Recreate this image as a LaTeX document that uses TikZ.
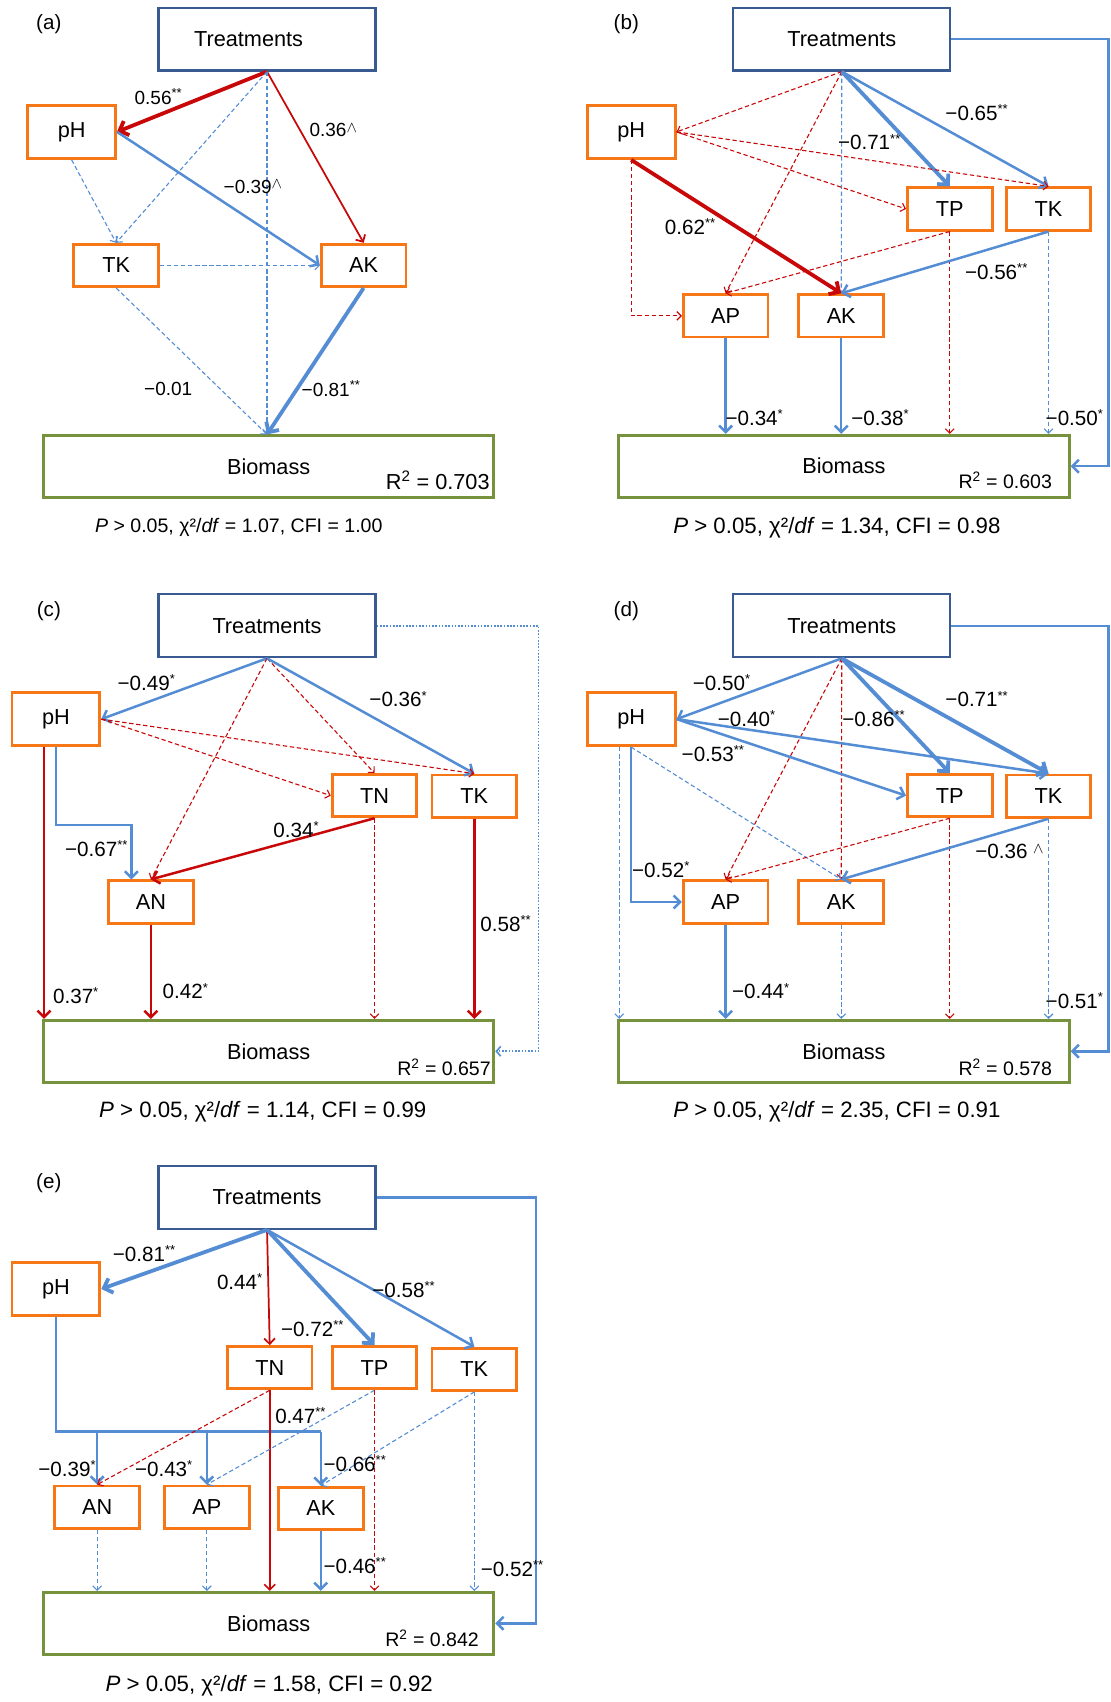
\documentclass[tikz,border=0pt]{standalone}
\usepackage{fontspec}
\setmainfont{Liberation Sans}
\usetikzlibrary{arrows.meta}
\definecolor{trtblue}{RGB}{57,91,145}
\definecolor{boxorange}{RGB}{247,118,22}
\definecolor{biogreen}{RGB}{118,146,60}
\definecolor{pathblue}{RGB}{84,141,212}
\definecolor{pathred}{RGB}{200,8,8}
\newcommand{\pstar}[1]{\textsuperscript{\fontsize{12}{12}\selectfont #1}}
\newcommand{\pwedge}{\raisebox{4pt}{\fontsize{14}{14}\selectfont$\wedge$}}
\begin{document}
\begin{tikzpicture}[x=1pt, y=-1pt,
  trt/.style={draw=trtblue, line width=2pt, minimum width=200pt, minimum height=58pt, inner sep=0pt, font=\fontsize{20}{20}\selectfont},
  var/.style={draw=boxorange, line width=2.6pt, minimum width=78pt, minimum height=39pt, inner sep=0pt, font=\fontsize{20}{20}\selectfont},
  ph/.style={var, minimum width=81pt, minimum height=49pt},
  bio/.style={draw=biogreen, line width=2.6pt, minimum width=415pt, minimum height=57pt, inner sep=0pt, font=\fontsize{20}{20}\selectfont},
  r2/.style={inner sep=0pt, anchor=south east, font=\fontsize{18}{18}\selectfont},
  lab/.style={inner sep=0pt, font=\fontsize{19}{19}\selectfont},
  laba/.style={inner sep=0pt, font=\fontsize{17.5}{17.5}\selectfont},
  plab/.style={inner sep=0pt, font=\fontsize{19}{19}\selectfont},
  captxt/.style={inner sep=0pt, font=\fontsize{20.5}{20.5}\selectfont},
  bthick/.style={pathblue, line width=3.5pt, -{Straight Barb[length=7pt,width=14pt]}},
  bmid/.style={pathblue, line width=2.3pt, -{Straight Barb[length=6pt,width=12pt]}},
  bdash/.style={pathblue, line width=1pt, dash pattern=on 4pt off 2.5pt, -{Straight Barb[length=4pt,width=8pt]}},
  bdot/.style={pathblue, line width=1.5pt, dash pattern=on 1.5pt off 1.5pt, -{Straight Barb[length=4pt,width=9pt]}},
  rthick/.style={pathred, line width=3.5pt, -{Straight Barb[length=7pt,width=14pt]}},
  rmid/.style={pathred, line width=2.3pt, -{Straight Barb[length=6pt,width=12pt]}},
  rthin/.style={pathred, line width=1.6pt, -{Straight Barb[length=5pt,width=10pt]}},
  rdash/.style={pathred, line width=1pt, dash pattern=on 4pt off 2.5pt, -{Straight Barb[length=4pt,width=8pt]}}]
  \fill[white] (0,0) rectangle (1023,1568);
  \useasboundingbox (0,0) rectangle (1023,1568);

  % (a)
  \node[plab] (labA) at (45,22) {(a)};
  \node[trt] (trtA) at (246,36) {\hspace*{-34pt}Treatments};
  \node[ph] (phA) at (66,121.5) {pH};
  \node[var] (tkA) at (107,244.5) {TK};
  \node[var] (akA) at (335,244.5) {AK};
  \node[bio] (bioA) at (247.5,430) {Biomass};
  \node[r2, font=\fontsize{20}{20}\selectfont] (r2A) at ([xshift=-5pt,yshift=8pt]bioA.south east) {R\textsuperscript{2} = 0.703};
  \coordinate (inA) at (trtA.south |- bioA.north);
  \draw[rthick] (trtA.south) -- (phA.east);
  \draw[rthin] (trtA.south) -- (akA.north);
  \draw[bdash] (trtA.south) -- (tkA.north);
  \draw[bdash] (trtA.south) -- (inA);
  \draw[bmid] (phA.east) -- (akA.west);
  \draw[bdash] (phA.south) -- (tkA.north);
  \draw[bdash] (tkA.east) -- (akA.west);
  \draw[bdash] (tkA.south) -- (inA);
  \draw[bthick] (akA.south) -- (inA);
  \node[laba] (lA1) at (146,89) {0.56\pstar{**}};
  \node[laba] (lA2) at (307,120) {0.36\pwedge};
  \node[laba] (lA3) at (233,172) {−0.39\pwedge};
  \node[laba] (lA4) at (155,358) {−0.01};
  \node[laba] (lA5) at (305,358) {−0.81\pstar{**}};
  \node[captxt, font=\fontsize{18}{18}\selectfont] (capA) at (220,486) {\textit{P} > 0.05, χ²/\textit{df} = 1.07, CFI = 1.00};

  % (b)
  \node[plab] (labB) at (577,22) {(b)};
  \node[trt] (trtB) at (775.5,36) {Treatments};
  \node[ph] (phB) at (581.5,121.5) {pH};
  \node[var] (tpB) at (875,192.5) {TP};
  \node[var] (tkB) at (966,192.5) {TK};
  \node[var] (apB) at (668.5,291) {AP};
  \node[var] (akB) at (775,291) {AK};
  \node[bio] (bioB) at (777.5,429.5) {Biomass};
  \node[r2] (r2B) at ([xshift=-17pt,yshift=9pt]bioB.south east) {R\textsuperscript{2} = 0.603};
  \coordinate (fbB) at (1021,232);
  \draw[rdash] (trtB.south) -- (phB.east);
  \draw[rdash] (trtB.south) -- (apB.north);
  \draw[bdash] (trtB.south) -- (akB.north);
  \draw[bthick] (trtB.south) -- (tpB.north);
  \draw[bmid] (trtB.south) -- (tkB.north);
  \draw[rdash] (phB.east) -- (tpB.west);
  \draw[rdash] (phB.east) -- (tkB.north);
  \draw[rthick] (phB.south) -- (akB.north);
  \draw[rdash] (phB.south) |- (apB.west);
  \draw[rdash] (tpB.south) -- (apB.north);
  \draw[rdash] (tpB.south) -- (tpB.south |- bioB.north);
  \draw[bmid] (tkB.south) -- (akB.north);
  \draw[bdash] (tkB.south) -- (tkB.south |- bioB.north);
  \draw[bmid] (apB.south) -- (apB.south |- bioB.north);
  \draw[bmid] (akB.south) -- (akB.south |- bioB.north);
  \draw[bmid] (trtB.east) -| (fbB) |- (bioB.east);
  \node[lab] (lB1) at (900,104) {−0.65\pstar{**}};
  \node[lab] (lB2) at (801,131) {−0.71\pstar{**}};
  \node[lab] (lB3) at (636,209) {0.62\pstar{**}};
  \node[lab] (lB4) at (918,250) {−0.56\pstar{**}};
  \node[lab] (lB5) at (695,385) {−0.34\pstar{*}};
  \node[lab] (lB6) at (811,385) {−0.38\pstar{*}};
  \node[lab] (lB7) at (990,385) {−0.50\pstar{*}};
  \node[captxt] (capB) at (771,486) {\textit{P} > 0.05, χ²/\textit{df} = 1.34, CFI = 0.98};

  % (c)
  \node[plab] (labC) at (45,563) {(c)};
  \node[trt] (trtC) at (246,576.5) {Treatments};
  \node[ph] (phC) at (51.5,662.5) {pH};
  \node[var] (tnC) at (345,733) {TN};
  \node[var] (tkC) at (437,733.5) {TK};
  \node[var] (anC) at (139,831) {AN};
  \node[bio] (bioC) at (247.5,968.5) {Biomass};
  \node[r2] (r2C) at ([xshift=-4pt,yshift=7pt]bioC.south east) {R\textsuperscript{2} = 0.657};
  \coordinate (pC) at ([xshift=-11pt]phC.south);
  \coordinate (cC) at (121,760);
  \coordinate (fbC) at (496,772);
  \draw[bmid] (trtC.south) -- (phC.east);
  \draw[rdash] (trtC.south) -- (anC.north);
  \draw[rdash] (trtC.south) -- (tnC.north);
  \draw[bmid] (trtC.south) -- (tkC.north);
  \draw[rdash] (phC.east) -- (tnC.west);
  \draw[rdash] (phC.east) -- (tkC.north);
  \draw[rmid] (pC) -- (pC |- bioC.north);
  \draw[bmid] (phC.south) |- (cC) -- (cC |- anC.north);
  \draw[rmid] (tnC.south) -- (anC.north);
  \draw[rdash] (tnC.south) -- (tnC.south |- bioC.north);
  \draw[rmid] (tkC.south) -- (tkC.south |- bioC.north);
  \draw[rmid] (anC.south) -- (anC.south |- bioC.north);
  \draw[bdot] (trtC.east) -| (fbC) |- (bioC.east);
  \node[lab] (lC1) at (135,629) {−0.49\pstar{*}};
  \node[lab] (lC2) at (367,644) {−0.36\pstar{*}};
  \node[lab] (lC3) at (273,764) {0.34\pstar{*}};
  \node[lab] (lC4) at (89,782) {−0.67\pstar{**}};
  \node[lab] (lC5) at (466,851) {0.58\pstar{**}};
  \node[lab] (lC6) at (70,917) {0.37\pstar{*}};
  \node[lab] (lC7) at (171,913) {0.42\pstar{*}};
  \node[captxt] (capC) at (242,1024) {\textit{P} > 0.05, χ²/\textit{df} = 1.14, CFI = 0.99};

  % (d)
  \node[plab] (labD) at (577,563) {(d)};
  \node[trt] (trtD) at (775.5,576.5) {Treatments};
  \node[ph] (phD) at (581.5,662.5) {pH};
  \node[var] (tpD) at (875,733) {TP};
  \node[var] (tkD) at (966,733.5) {TK};
  \node[var] (apD) at (668.5,831) {AP};
  \node[var] (akD) at (775,831) {AK};
  \node[bio] (bioD) at (777.5,968.5) {Biomass};
  \node[r2] (r2D) at ([xshift=-17pt,yshift=7pt]bioD.south east) {R\textsuperscript{2} = 0.578};
  \coordinate (pD) at ([xshift=-11pt]phD.south);
  \coordinate (fbD) at (1021,772);
  \draw[bmid] (trtD.south) -- (phD.east);
  \draw[rdash] (trtD.south) -- (apD.north);
  \draw[rdash] (trtD.south) -- (akD.north);
  \draw[bthick] (trtD.south) -- (tpD.north);
  \draw[bthick] (trtD.south) -- (tkD.north);
  \draw[bmid] (phD.east) -- (tkD.north);
  \draw[bmid] (phD.east) -- (tpD.west);
  \draw[bdash] (phD.south) -- (akD.north);
  \draw[bdash] (pD) -- (pD |- bioD.north);
  \draw[bmid] (phD.south) |- (apD.west);
  \draw[rdash] (tpD.south) -- (apD.north);
  \draw[rdash] (tpD.south) -- (tpD.south |- bioD.north);
  \draw[bmid] (tkD.south) -- (akD.north);
  \draw[bdash] (tkD.south) -- (tkD.south |- bioD.north);
  \draw[bmid] (apD.south) -- (apD.south |- bioD.north);
  \draw[bdash] (akD.south) -- (akD.south |- bioD.north);
  \draw[bmid] (trtD.east) -| (fbD) |- (bioD.east);
  \node[lab] (lD1) at (665,629) {−0.50\pstar{*}};
  \node[lab] (lD2) at (688,662) {−0.40\pstar{*}};
  \node[lab] (lD3) at (805,662) {−0.86\pstar{**}};
  \node[lab] (lD4) at (900,644) {−0.71\pstar{**}};
  \node[lab] (lD5) at (657,694) {−0.53\pstar{**}};
  \node[lab] (lD6) at (609,801) {−0.52\pstar{*}};
  \node[lab] (lD7) at (930,784) {−0.36 \pwedge};
  \node[lab] (lD8) at (701,913) {−0.44\pstar{*}};
  \node[lab] (lD9) at (990,922) {−0.51\pstar{*}};
  \node[captxt] (capD) at (771,1024) {\textit{P} > 0.05, χ²/\textit{df} = 2.35, CFI = 0.91};

  % (e)
  \node[plab] (labE) at (45,1090) {(e)};
  \node[trt] (trtE) at (246,1103) {Treatments};
  \node[ph] (phE) at (51.5,1187.5) {pH};
  \node[var] (tnE) at (248.5,1260) {TN};
  \node[var] (tpE) at (345,1260) {TP};
  \node[var] (tkE) at (437,1261.5) {TK};
  \node[var] (anE) at (89.5,1388.5) {AN};
  \node[var] (apE) at (190.5,1388.5) {AP};
  \node[var] (akE) at (295.5,1389.5) {AK};
  \node[bio] (bioE) at (247.5,1495.5) {Biomass};
  \node[r2] (r2E) at ([xshift=-15pt,yshift=8pt]bioE.south east) {R\textsuperscript{2} = 0.842};
  \coordinate (busE) at (295.5,1319);
  \coordinate (fbE) at (494,1300);
  \draw[bthick] (trtE.south) -- (phE.east);
  \draw[rthin] (trtE.south) -- (tnE.north);
  \draw[bthick] (trtE.south) -- (tpE.north);
  \draw[bmid] (trtE.south) -- (tkE.north);
  \draw[bmid, -] (phE.south) |- (busE);
  \draw[bmid] (anE.north |- busE) -- (anE.north);
  \draw[bmid] (apE.north |- busE) -- (apE.north);
  \draw[bmid] (busE) -- (akE.north);
  \draw[rdash] (tnE.south) -- (anE.north);
  \draw[rthin] (tnE.south) -- (tnE.south |- bioE.north);
  \draw[bdash] (tpE.south) -- (apE.north);
  \draw[rdash] (tpE.south) -- (tpE.south |- bioE.north);
  \draw[bdash] (tkE.south) -- (akE.north);
  \draw[bdash] (tkE.south) -- (tkE.south |- bioE.north);
  \draw[bdash] (anE.south) -- (anE.south |- bioE.north);
  \draw[bdash] (apE.south) -- (apE.south |- bioE.north);
  \draw[bmid] (akE.south) -- (akE.south |- bioE.north);
  \draw[bmid] (trtE.east) -| (fbE) |- (bioE.east);
  \node[lab] (lE1) at (133,1155) {−0.81\pstar{**}};
  \node[lab] (lE2) at (221,1181) {0.44\pstar{*}};
  \node[lab] (lE3) at (288,1224) {−0.72\pstar{**}};
  \node[lab] (lE4) at (372,1188) {−0.58\pstar{**}};
  \node[lab] (lE5) at (277,1304) {0.47\pstar{**}};
  \node[lab] (lE6) at (62,1353) {−0.39\pstar{*}};
  \node[lab] (lE7) at (151,1353) {−0.43\pstar{*}};
  \node[lab] (lE8) at (327,1348) {−0.66\pstar{**}};
  \node[lab] (lE9) at (327,1442) {−0.46\pstar{**}};
  \node[lab] (lE10) at (472,1445) {−0.52\pstar{**}};
  \node[captxt] (capE) at (248,1553) {\textit{P} > 0.05, χ²/\textit{df} = 1.58, CFI = 0.92};
\end{tikzpicture}
\end{document}
